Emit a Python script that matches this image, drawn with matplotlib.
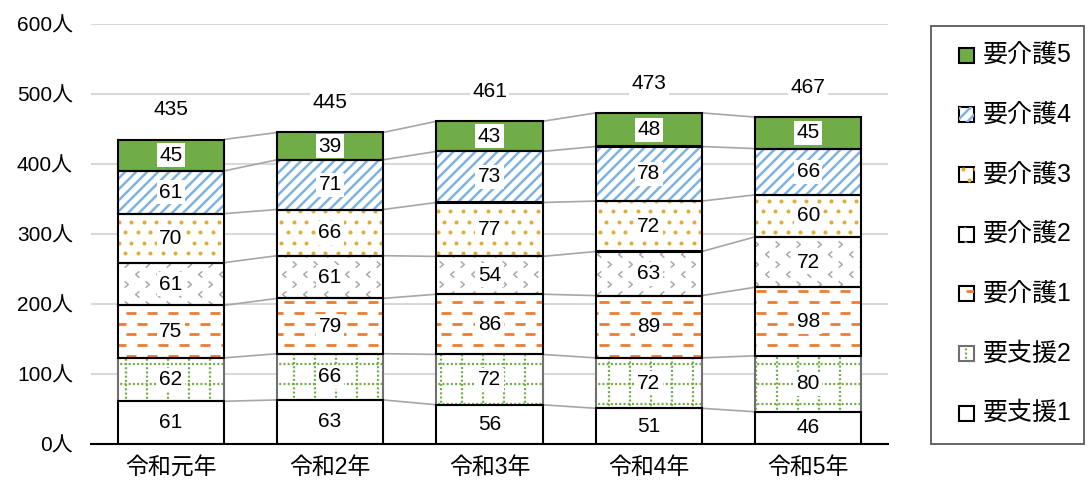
import numpy as np
import matplotlib
matplotlib.use('Agg')
import matplotlib.pyplot as plt
from matplotlib.patches import Rectangle
from matplotlib.collections import LineCollection
from matplotlib.lines import Line2D
from matplotlib.path import Path
from matplotlib.transforms import IdentityTransform

plt.rcParams['font.family'] = ['Liberation Sans', 'Noto Sans CJK JP']

# ---- data -------------------------------------------------------------
years = ['令和元年', '令和2年', '令和3年', '令和4年', '令和5年']
levels = ['要支援1', '要支援2', '要介護1', '要介護2', '要介護3', '要介護4', '要介護5']
shien1 = [61, 63, 56, 51, 46]
shien2 = [62, 66, 72, 72, 80]
kaigo1 = [75, 79, 86, 89, 98]
kaigo2 = [61, 61, 54, 63, 72]
kaigo3 = [70, 66, 77, 72, 60]
kaigo4 = [61, 71, 73, 78, 66]
kaigo5 = [45, 39, 43, 48, 45]
counts = [shien1, shien2, kaigo1, kaigo2, kaigo3, kaigo4, kaigo5]
y_ticks = [0, 100, 200, 300, 400, 500, 600]

# ---- styles -------------------------------------------------------------
styles = {
    '要支援1': dict(fill='white', pattern=None, edge='black'),
    '要支援2': dict(fill='white', pattern='grid', edge='#6f6f6f'),
    '要介護1': dict(fill='white', pattern='dashes', edge='black'),
    '要介護2': dict(fill='white', pattern='chevrons', edge='black'),
    '要介護3': dict(fill='white', pattern='dots', edge='black'),
    '要介護4': dict(fill='white', pattern='stripes', edge='black'),
    '要介護5': dict(fill='#70AD47', pattern=None, edge='black'),
}

PIX = IdentityTransform()


def _rows(y0, y1, dy):
    return range(int(np.floor(y0 / dy)) - 1, int(np.ceil(y1 / dy)) + 2)


def _cols(x0, x1, dx, off):
    return np.arange(np.floor(x0 / dx) - 1, np.ceil(x1 / dx) + 2) * dx + off


def pattern_artists(kind, x0, y0, x1, y1):
    """Fill pattern for a box given in display pixels (y up)."""
    arts = []
    if kind == 'stripes':
        step = 11.0
        cs = np.arange(np.floor((x0 - y1) / step) * step - step, x1 - y0 + step, step)
        segs = [[(x0 - 3, x0 - 3 - c), (x1 + 3, x1 + 3 - c)] for c in cs]
        arts.append(LineCollection(segs, colors='#80B3E2', linewidths=1.8,
                                   transform=PIX))
    elif kind == 'dots':
        dx, dy = 12.5, 10.5
        xs_all, ys_all = [], []
        for j in _rows(y0, y1, dy):
            xs = _cols(x0, x1, dx, (j % 2) * dx / 2)
            xs_all.extend(xs)
            ys_all.extend([j * dy] * len(xs))
        arts.append(Line2D(xs_all, ys_all, ls='none', marker='o', ms=2.9,
                           mfc='#E0AC3C', mec='none', transform=PIX))
    elif kind == 'chevrons':
        dx, dy = 21.0, 10.0
        left = Path([(0.6, 1.0), (-0.6, 0.0), (0.6, -1.0)])
        right = Path([(-0.6, 1.0), (0.6, 0.0), (-0.6, -1.0)])
        for parity, mk in ((0, right), (1, left)):
            xs_all, ys_all = [], []
            for j in _rows(y0, y1, dy):
                if j % 2 != parity:
                    continue
                xs = _cols(x0, x1, dx, parity * dx / 2)
                xs_all.extend(xs)
                ys_all.extend([j * dy] * len(xs))
            arts.append(Line2D(xs_all, ys_all, ls='none', marker=mk, ms=4.5,
                               mfc='none', mec='#AAAAAA', mew=1.1, transform=PIX))
    elif kind == 'dashes':
        dx, dy, length = 21.0, 10.7, 10.0
        segs = []
        for j in _rows(y0, y1, dy):
            for xs in _cols(x0, x1, dx, (j % 2) * dx / 2):
                segs.append([(xs, j * dy), (xs + length, j * dy)])
        arts.append(LineCollection(segs, colors='#ED7D31', linewidths=2.0,
                                   capstyle='butt', transform=PIX))
    elif kind == 'grid':
        dx, dy = 21.0, 20.0
        segs = []
        for xs in _cols(x0, x1, dx, 0):
            segs.append([(xs, y0 - 2), (xs, y1 + 2)])
        for j in _rows(y0, y1, dy):
            segs.append([(x0 - 2, j * dy), (x1 + 2, j * dy)])
        arts.append(LineCollection(segs, colors='#70AD47', linewidths=1.6,
                                   linestyles=[(0, (0.9, 1.0))],
                                   capstyle='butt', transform=PIX))
    return arts


# ---- figure -------------------------------------------------------------
W_PX, H_PX, DPI = 1089, 484, 100
fig = plt.figure(figsize=(W_PX / DPI, H_PX / DPI), dpi=DPI)
ax = fig.add_axes([91 / W_PX, 40 / H_PX, (888 - 91) / W_PX, (444 - 24) / H_PX])
ax.set_xlim(-0.5, len(years) - 0.5)
ax.set_ylim(0, 600)

x = np.arange(len(years))
bar_w = 0.665
label_box = dict(boxstyle='square,pad=0.12', fc='white', ec='none')

bottom = np.zeros(len(years))
bottoms, tops = [], []
for name, vals in zip(levels, counts):
    st = styles[name]
    vals = np.asarray(vals)
    rects = ax.bar(x, vals, bottom=bottom, width=bar_w, color=st['fill'],
                   edgecolor='none', zorder=2)
    for r in rects:
        if st['pattern']:
            (px0, py0), (px1, py1) = ax.transData.transform(
                [(r.get_x(), r.get_y()),
                 (r.get_x() + r.get_width(), r.get_y() + r.get_height())])
            for a in pattern_artists(st['pattern'], px0, py0, px1, py1):
                a.set_zorder(2.5)
                ax.add_artist(a)
                a.set_clip_path(r)   # after add_artist, which sets its own clip
    for i, v in enumerate(vals):
        ax.text(x[i], bottom[i] + v / 2, f'{v}', ha='center', va='center',
                fontsize=15, bbox=label_box, zorder=5)
    bottoms.append(bottom.copy())
    bottom = bottom + vals
    tops.append(bottom.copy())

# segment outlines (support-level 2 first so black borders sit on top)
order = [1] + [k for k in range(len(levels)) if k != 1]
for k in order:
    st = styles[levels[k]]
    ax.bar(x, counts[k], bottom=bottoms[k], width=bar_w, fill=False,
           edgecolor=st['edge'], linewidth=1.5, zorder=3)

# series lines joining segment tops
for cum in tops:
    segs = [[(x[i] + bar_w / 2, cum[i]), (x[i + 1] - bar_w / 2, cum[i + 1])]
            for i in range(len(x) - 1)]
    ax.add_collection(LineCollection(segs, colors='#A6A6A6', linewidths=1.2,
                                     zorder=1.8), autolim=False)

# totals above bars
totals = tops[-1]
for i, t in enumerate(totals):
    ax.annotate(f'{int(t)}', xy=(x[i], t), xytext=(0, 21.5),
                textcoords='offset points', ha='center', va='center',
                fontsize=15, bbox=label_box, zorder=5)

# axes styling
ax.set_yticks(y_ticks)
ax.set_yticklabels([f'{v}人' for v in y_ticks])
ax.set_xticks(x)
ax.set_xticklabels(years)
ax.tick_params(axis='y', length=0, pad=13, labelsize=15)
ax.tick_params(axis='x', length=0, pad=9, labelsize=16.5)
ax.yaxis.grid(True, color='#D9D9D9', linewidth=1.5)
ax.set_axisbelow(True)
for side in ('top', 'right', 'left'):
    ax.spines[side].set_visible(False)
ax.spines['bottom'].set_color('black')
ax.spines['bottom'].set_linewidth(1.5)
ax.spines['bottom'].set_zorder(4)

# ---- legend (drawn in pixel space so patterns match the bars) -------------
fig.add_artist(Rectangle((931, 40), 153, 418, transform=PIX, fill=False,
                         edgecolor='#595959', linewidth=1.3))
sq = 15
for k, name in enumerate(reversed(levels)):
    st = styles[name]
    cy = H_PX - (55 + k * 59.7)
    x0, y0 = 958.5, cy - sq / 2
    face = Rectangle((x0, y0), sq, sq, transform=PIX, facecolor=st['fill'],
                     edgecolor='none')
    fig.add_artist(face)
    if st['pattern']:
        for a in pattern_artists(st['pattern'], x0, y0, x0 + sq, y0 + sq):
            fig.add_artist(a)
            a.set_clip_path(face)
    fig.add_artist(Rectangle((x0, y0), sq, sq, transform=PIX, fill=False,
                             edgecolor=st['edge'], linewidth=1.5))
    fig.text(983 / W_PX, cy / H_PX, name, ha='left', va='center', fontsize=18)

fig.savefig('out.png', dpi=DPI)
